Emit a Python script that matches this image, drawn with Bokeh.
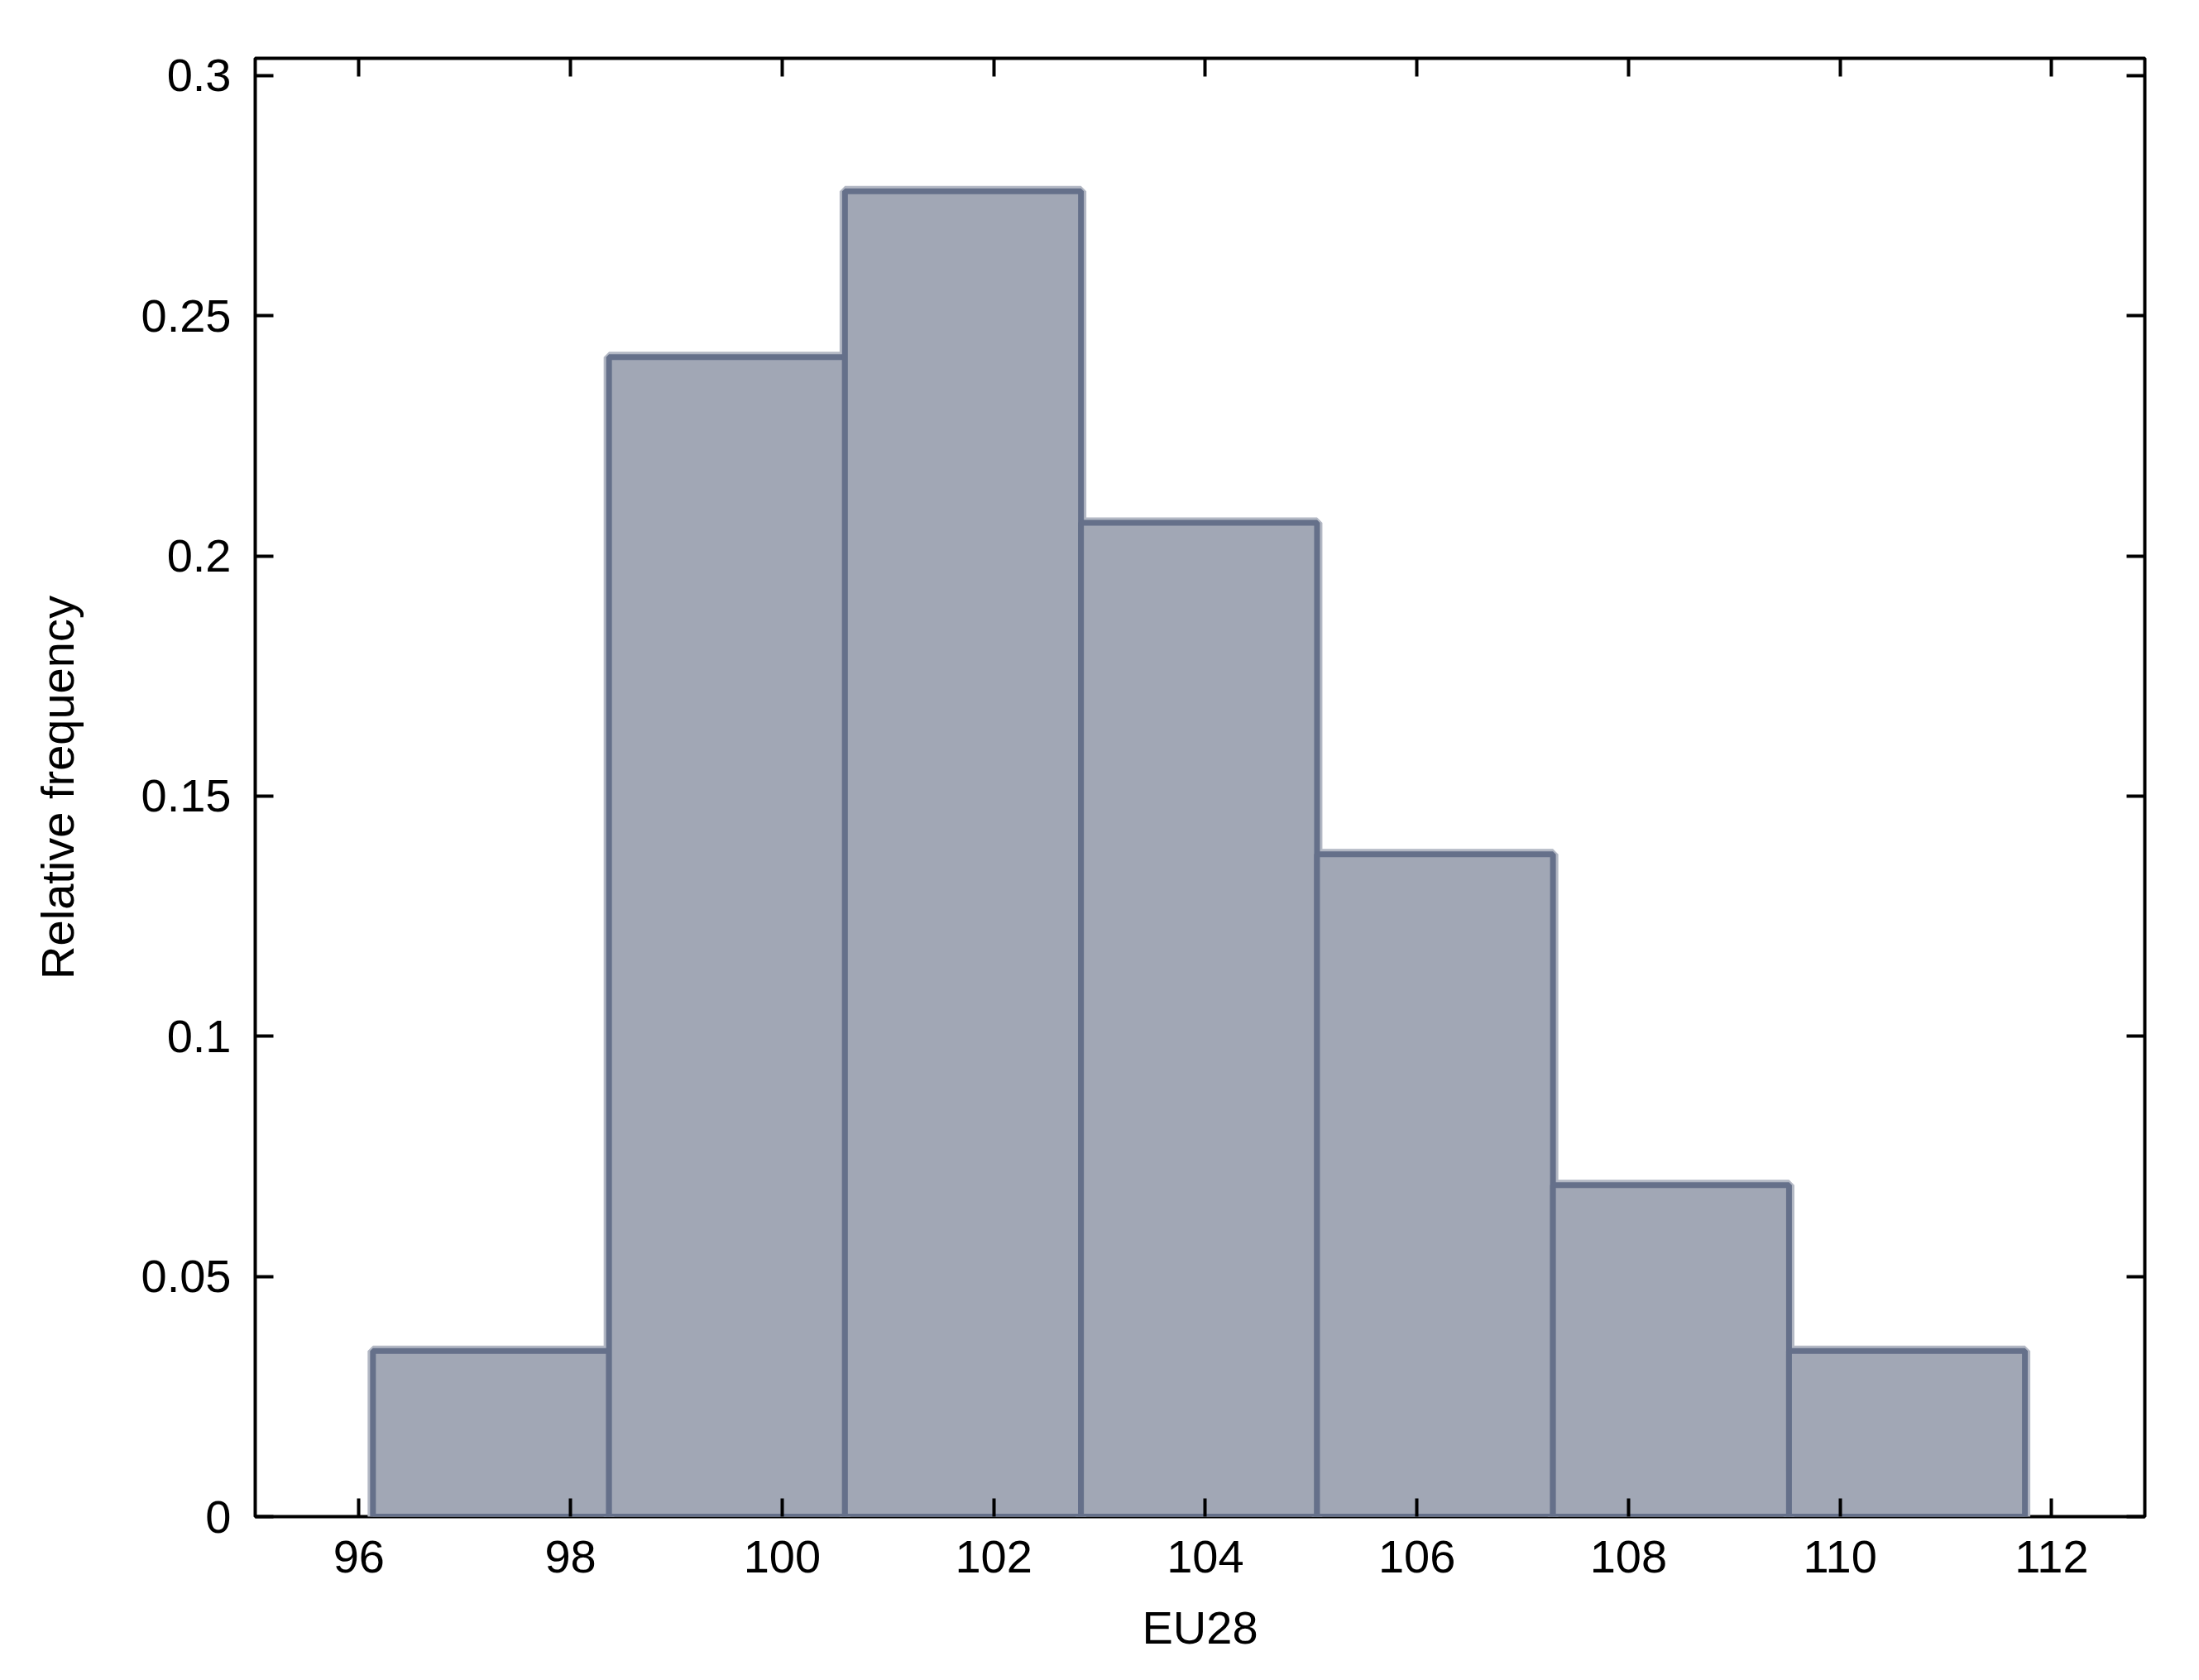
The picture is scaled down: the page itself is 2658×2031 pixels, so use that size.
from bokeh.plotting import figure
from bokeh.models import LinearAxis, FixedTicker, Range1d
from bokeh.embed import file_html
from bokeh.resources import INLINE

# ---- data ----
bin_left = [96.133, 98.364, 100.594, 102.825, 105.056, 107.286, 109.517]
bin_right = [98.364, 100.594, 102.825, 105.056, 107.286, 109.517, 111.747]
rel_freq = [0.0345, 0.2414, 0.2759, 0.2069, 0.1379, 0.0690, 0.0345]

x_ticks = [96, 98, 100, 102, 104, 106, 108, 110, 112]
y_ticks = [0, 0.05, 0.1, 0.15, 0.2, 0.25, 0.3]
y_tick_labels = ["0", "0.05", "0.1", "0.15", "0.2", "0.25", "0.3"]

x_label = "EU28"
y_label = "Relative frequency"

FONT = "Liberation Sans"
FS = "56px"

p = figure(width=2642, height=2015, output_backend="svg", toolbar_location=None,
           x_range=Range1d(95.02, 112.88), y_range=Range1d(0, 0.3036),
           min_border_left=308, min_border_right=50, min_border_top=70, min_border_bottom=182,
           x_axis_location=None, y_axis_location=None)

p.grid.visible = False
p.outline_line_color = "black"
p.outline_line_width = 4
p.background_fill_color = "white"
p.border_fill_color = "white"

# halo under bars
p.quad(left=bin_left, right=bin_right, bottom=0, top=rel_freq,
       fill_color=None, line_color="#b3b8c4", line_width=13)
p.quad(left=bin_left, right=bin_right, bottom=0, top=rel_freq,
       fill_color="#a1a7b5", line_color="#65708a", line_width=7)

ytick_over = {v: s for v, s in zip(y_ticks, y_tick_labels)}

def style_axis(ax, show_labels):
    ax.axis_line_color = None
    ax.major_tick_in = 22
    ax.major_tick_out = 0
    ax.major_tick_line_width = 4
    ax.major_tick_line_color = "black"
    ax.minor_tick_line_color = None
    ax.major_label_text_font = FONT
    ax.major_label_text_color = "black"
    ax.axis_label_text_font = FONT
    ax.axis_label_text_font_style = "normal"
    ax.axis_label_text_color = "black"
    ax.axis_label_text_font_size = FS
    if show_labels:
        ax.major_label_text_font_size = FS
        ax.major_label_standoff = 29
    else:
        ax.major_label_text_font_size = "10px"
        ax.major_label_standoff = 0

xb = LinearAxis(ticker=FixedTicker(ticks=x_ticks), axis_label=x_label)
style_axis(xb, True)
xb.axis_label_standoff = 32
p.add_layout(xb, "below")

xa = LinearAxis(ticker=FixedTicker(ticks=x_ticks),
                major_label_overrides={v: "" for v in x_ticks})
style_axis(xa, False)
p.add_layout(xa, "above")

yl = LinearAxis(ticker=FixedTicker(ticks=y_ticks), axis_label=y_label,
                major_label_overrides=ytick_over)
style_axis(yl, True)
yl.axis_label_standoff = 67
p.add_layout(yl, "left")

yr = LinearAxis(ticker=FixedTicker(ticks=y_ticks),
                major_label_overrides={v: "" for v in y_ticks})
style_axis(yr, False)
p.add_layout(yr, "right")

open("out.html", "w").write(file_html(p, INLINE))
